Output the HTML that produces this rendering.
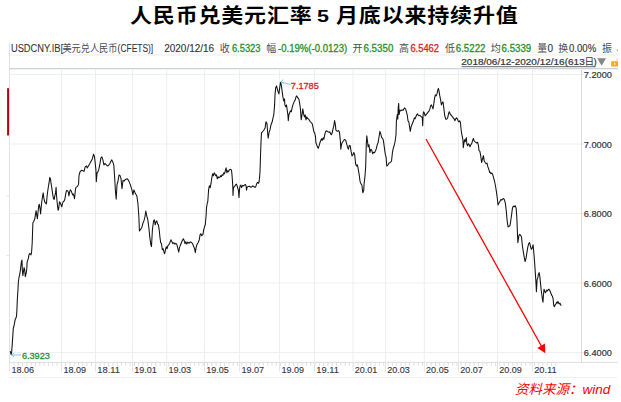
<!DOCTYPE html>
<html><head><meta charset="utf-8"><title>人民币兑美元汇率</title>
<style>
html,body{margin:0;padding:0;background:#fff;}
body{width:621px;height:402px;position:relative;overflow:hidden;font-family:"Liberation Sans", "Noto Sans CJK SC", sans-serif;}
.tt{position:absolute;top:2px;font-family:"Liberation Sans","Noto Sans CJK SC",sans-serif;font-weight:bold;font-size:20px;letter-spacing:0.75px;white-space:nowrap;color:#000;line-height:29px;transform:scaleX(1.1);transform-origin:0 0;}
.t5{font-size:16.5px;top:2.2px;transform:scaleX(1.3);transform-origin:0 0;letter-spacing:0;}
#src{position:absolute;left:515px;top:379.5px;font-size:13.5px;font-style:italic;font-weight:400;color:#ff0000;white-space:nowrap;line-height:20px;font-family:"Liberation Sans","Noto Sans CJK SC",sans-serif;}
svg{position:absolute;left:0;top:0;}
svg text{font-family:"Liberation Sans", "Noto Sans CJK SC", sans-serif;}
</style></head>
<body>
<svg width="621" height="402" viewBox="0 0 621 402">
<text x="10.9" y="51.6" font-size="10" fill="#333338" textLength="49.6" lengthAdjust="spacingAndGlyphs" stroke="#333338" stroke-width="0.08">USDCNY.IB</text>
<text x="60.4" y="51.6" font-size="10" fill="#333338">[</text>
<text x="62.4" y="52.0" font-size="10" fill="#4a4a50" textLength="55" lengthAdjust="spacingAndGlyphs">美元兑人民币</text>
<text x="117.6" y="51.6" font-size="10" fill="#333338" textLength="35.6" lengthAdjust="spacingAndGlyphs" stroke="#333338" stroke-width="0.08">(CFETS)]</text>
<text x="164.2" y="51.6" font-size="10" fill="#333338" textLength="50" lengthAdjust="spacingAndGlyphs" stroke="#333338" stroke-width="0.12">2020/12/16</text>
<text x="219.8" y="52.0" font-size="10" fill="#4a4a50">收</text>
<text x="231.9" y="51.6" font-size="10" fill="#1d8f29" textLength="28.6" lengthAdjust="spacingAndGlyphs" stroke="#1d8f29" stroke-width="0.28">6.5323</text>
<text x="266.2" y="52.0" font-size="10" fill="#4a4a50">幅</text>
<text x="278.0" y="51.6" font-size="10" fill="#1d8f29" textLength="69.2" lengthAdjust="spacingAndGlyphs" stroke="#1d8f29" stroke-width="0.28">-0.19%(-0.0123)</text>
<text x="352.6" y="52.0" font-size="10" fill="#4a4a50">开</text>
<text x="363.5" y="51.6" font-size="10" fill="#1d8f29" textLength="29.8" lengthAdjust="spacingAndGlyphs" stroke="#1d8f29" stroke-width="0.28">6.5350</text>
<text x="399.1" y="52.0" font-size="10" fill="#4a4a50">高</text>
<text x="410.4" y="51.6" font-size="10" fill="#d82222" textLength="28.6" lengthAdjust="spacingAndGlyphs" stroke="#d82222" stroke-width="0.28">6.5462</text>
<text x="444.9" y="52.0" font-size="10" fill="#4a4a50">低</text>
<text x="455.8" y="51.6" font-size="10" fill="#1d8f29" textLength="29.6" lengthAdjust="spacingAndGlyphs" stroke="#1d8f29" stroke-width="0.28">6.5222</text>
<text x="490.7" y="52.0" font-size="10" fill="#4a4a50">均</text>
<text x="501.6" y="51.6" font-size="10" fill="#1d8f29" textLength="29.6" lengthAdjust="spacingAndGlyphs" stroke="#1d8f29" stroke-width="0.28">6.5339</text>
<text x="537.2" y="52.0" font-size="10" fill="#4a4a50">量</text>
<text x="547.6" y="51.6" font-size="10" fill="#333338" stroke="#333338" stroke-width="0.12">0</text>
<text x="558.2" y="52.0" font-size="10" fill="#4a4a50">换</text>
<text x="569.0" y="51.6" font-size="10" fill="#333338" textLength="27.2" lengthAdjust="spacingAndGlyphs" stroke="#333338" stroke-width="0.12">0.00%</text>
<text x="602.0" y="52.0" font-size="10" fill="#4a4a50">振</text>
<rect x="616.8" y="49.6" width="1.2" height="1.4" fill="#f08a40"/>
<text x="461.3" y="65.2" font-size="9.6" fill="#333338" textLength="123.4" lengthAdjust="spacingAndGlyphs" stroke="#333338" stroke-width="0.2">2018/06/12-2020/12/16(613</text>
<text x="584.6" y="65.2" font-size="9.6" fill="#333338" stroke="#333338" stroke-width="0.05">日</text>
<text x="593.6" y="65.2" font-size="9.6" fill="#333338" stroke="#333338" stroke-width="0.2">)</text>
<line x1="461.5" y1="66.7" x2="595.5" y2="66.7" stroke="#55555c" stroke-width="0.9"/>
<path d="M597.3,58.2 L606,58.2 L601.65,65.8 Z" fill="#858585"/>
<rect x="611.2" y="61.2" width="6.8" height="5.2" rx="0.5" fill="#f0a825"/>
<rect x="616.6" y="58.4" width="0.9" height="2.8" fill="#f3c060"/>
<rect x="614.1" y="62.6" width="1.1" height="2.4" fill="#fff6e0"/>
<line x1="9.5" y1="43" x2="9.5" y2="362.5" stroke="#e2e2e2" stroke-width="1"/>
<line x1="9.5" y1="55" x2="618" y2="55" stroke="#ececec" stroke-width="1"/>
<line x1="9.5" y1="68.6" x2="618" y2="68.6" stroke="#c6d3dd" stroke-width="1.3"/>
<line x1="10" y1="74.6" x2="581" y2="74.6" stroke="#efefef" stroke-width="1"/>
<line x1="10" y1="144.0" x2="581" y2="144.0" stroke="#efefef" stroke-width="1"/>
<line x1="10" y1="213.5" x2="581" y2="213.5" stroke="#efefef" stroke-width="1"/>
<line x1="10" y1="283.0" x2="581" y2="283.0" stroke="#efefef" stroke-width="1"/>
<line x1="10" y1="352.4" x2="581" y2="352.4" stroke="#efefef" stroke-width="1"/>
<line x1="61.6" y1="69.5" x2="61.6" y2="362" stroke="#eeeeee" stroke-width="1"/>
<line x1="95.5" y1="69.5" x2="95.5" y2="362" stroke="#eeeeee" stroke-width="1"/>
<line x1="132.5" y1="69.5" x2="132.5" y2="362" stroke="#eeeeee" stroke-width="1"/>
<line x1="166.7" y1="69.5" x2="166.7" y2="362" stroke="#eeeeee" stroke-width="1"/>
<line x1="204.5" y1="69.5" x2="204.5" y2="362" stroke="#eeeeee" stroke-width="1"/>
<line x1="239.6" y1="69.5" x2="239.6" y2="362" stroke="#eeeeee" stroke-width="1"/>
<line x1="279.6" y1="69.5" x2="279.6" y2="362" stroke="#eeeeee" stroke-width="1"/>
<line x1="314.5" y1="69.5" x2="314.5" y2="362" stroke="#eeeeee" stroke-width="1"/>
<line x1="353.0" y1="69.5" x2="353.0" y2="362" stroke="#eeeeee" stroke-width="1"/>
<line x1="385.5" y1="69.5" x2="385.5" y2="362" stroke="#eeeeee" stroke-width="1"/>
<line x1="424.3" y1="69.5" x2="424.3" y2="362" stroke="#eeeeee" stroke-width="1"/>
<line x1="458.5" y1="69.5" x2="458.5" y2="362" stroke="#eeeeee" stroke-width="1"/>
<line x1="497.5" y1="69.5" x2="497.5" y2="362" stroke="#eeeeee" stroke-width="1"/>
<line x1="532.4" y1="69.5" x2="532.4" y2="362" stroke="#eeeeee" stroke-width="1"/>
<path d="M6.5,195.7H9 M6.5,255.6H9" stroke="#dddddd" stroke-width="0.8"/>
<line x1="581.5" y1="69.5" x2="581.5" y2="362.5" stroke="#dadada" stroke-width="1"/>
<line x1="9.5" y1="362.4" x2="618" y2="362.4" stroke="#dedede" stroke-width="1"/>
<path d="M9.7,362.8V365.8 M14.0,362.8V365.8 M18.3,362.8V365.8 M22.6,362.8V365.8 M26.9,362.8V365.8 M31.2,362.8V365.8 M35.5,362.8V365.8 M39.8,362.8V365.8 M44.1,362.8V365.8 M48.4,362.8V365.8 M52.7,362.8V365.8 M57.0,362.8V365.8 M61.3,362.8V365.8 M65.6,362.8V365.8 M69.9,362.8V365.8 M74.2,362.8V365.8 M78.5,362.8V365.8 M82.8,362.8V365.8 M87.1,362.8V365.8 M91.4,362.8V365.8 M95.7,362.8V365.8 M100.0,362.8V365.8 M104.3,362.8V365.8 M108.6,362.8V365.8 M112.9,362.8V365.8 M117.2,362.8V365.8 M121.5,362.8V365.8 M125.8,362.8V365.8 M130.1,362.8V365.8 M134.4,362.8V365.8 M138.7,362.8V365.8 M143.0,362.8V365.8 M147.3,362.8V365.8 M151.6,362.8V365.8 M155.9,362.8V365.8 M160.2,362.8V365.8 M164.5,362.8V365.8 M168.8,362.8V365.8 M173.1,362.8V365.8 M177.4,362.8V365.8 M181.7,362.8V365.8 M186.0,362.8V365.8 M190.3,362.8V365.8 M194.6,362.8V365.8 M198.9,362.8V365.8 M203.2,362.8V365.8 M207.5,362.8V365.8 M211.8,362.8V365.8 M216.1,362.8V365.8 M220.4,362.8V365.8 M224.7,362.8V365.8 M229.0,362.8V365.8 M233.3,362.8V365.8 M237.6,362.8V365.8 M241.9,362.8V365.8 M246.2,362.8V365.8 M250.5,362.8V365.8 M254.8,362.8V365.8 M259.1,362.8V365.8 M263.4,362.8V365.8 M267.7,362.8V365.8 M272.0,362.8V365.8 M276.3,362.8V365.8 M280.6,362.8V365.8 M284.9,362.8V365.8 M289.2,362.8V365.8 M293.5,362.8V365.8 M297.8,362.8V365.8 M302.1,362.8V365.8 M306.4,362.8V365.8 M310.7,362.8V365.8 M315.0,362.8V365.8 M319.3,362.8V365.8 M323.6,362.8V365.8 M327.9,362.8V365.8 M332.2,362.8V365.8 M336.5,362.8V365.8 M340.8,362.8V365.8 M345.1,362.8V365.8 M349.4,362.8V365.8 M353.7,362.8V365.8 M358.0,362.8V365.8 M362.3,362.8V365.8 M366.6,362.8V365.8 M370.9,362.8V365.8 M375.2,362.8V365.8 M379.5,362.8V365.8 M383.8,362.8V365.8 M388.1,362.8V365.8 M392.4,362.8V365.8 M396.7,362.8V365.8 M401.0,362.8V365.8 M405.3,362.8V365.8 M409.6,362.8V365.8 M413.9,362.8V365.8 M418.2,362.8V365.8 M422.5,362.8V365.8 M426.8,362.8V365.8 M431.1,362.8V365.8 M435.4,362.8V365.8 M439.7,362.8V365.8 M444.0,362.8V365.8 M448.3,362.8V365.8 M452.6,362.8V365.8 M456.9,362.8V365.8 M461.2,362.8V365.8 M465.5,362.8V365.8 M469.8,362.8V365.8 M474.1,362.8V365.8 M478.4,362.8V365.8 M482.7,362.8V365.8 M487.0,362.8V365.8 M491.3,362.8V365.8 M495.6,362.8V365.8 M499.9,362.8V365.8 M504.2,362.8V365.8 M508.5,362.8V365.8 M512.8,362.8V365.8 M517.1,362.8V365.8 M521.4,362.8V365.8 M525.7,362.8V365.8 M530.0,362.8V365.8 M534.3,362.8V365.8 M538.6,362.8V365.8 M542.9,362.8V365.8 M547.2,362.8V365.8 M551.5,362.8V365.8 M555.8,362.8V365.8" stroke="#d6d6d6" stroke-width="0.8" fill="none"/>
<path d="M9.5,362V371.5 M61.6,362V371.5 M95.5,362V371.5 M132.5,362V371.5 M166.7,362V371.5 M204.5,362V371.5 M239.6,362V371.5 M279.6,362V371.5 M314.5,362V371.5 M353.0,362V371.5 M385.5,362V371.5 M424.3,362V371.5 M458.5,362V371.5 M497.5,362V371.5 M532.4,362V371.5" stroke="#e4e4e4" stroke-width="1" fill="none"/>
<line x1="9.5" y1="377.5" x2="617" y2="377.5" stroke="#f0f0f0" stroke-width="1"/>
<rect x="7.1" y="88.2" width="1.9" height="47.3" fill="#b5000f"/>
<text x="583.7" y="78.4" font-size="9.5" fill="#333338" textLength="28.2" lengthAdjust="spacingAndGlyphs" stroke="#333338" stroke-width="0.2">7.2000</text>
<line x1="581.5" y1="74.6" x2="583.3" y2="74.6" stroke="#d8d8d8" stroke-width="0.8"/>
<text x="583.7" y="147.8" font-size="9.5" fill="#333338" textLength="28.2" lengthAdjust="spacingAndGlyphs" stroke="#333338" stroke-width="0.2">7.0000</text>
<line x1="581.5" y1="144.0" x2="583.3" y2="144.0" stroke="#d8d8d8" stroke-width="0.8"/>
<text x="583.7" y="217.3" font-size="9.5" fill="#333338" textLength="28.2" lengthAdjust="spacingAndGlyphs" stroke="#333338" stroke-width="0.2">6.8000</text>
<line x1="581.5" y1="213.5" x2="583.3" y2="213.5" stroke="#d8d8d8" stroke-width="0.8"/>
<text x="583.7" y="286.8" font-size="9.5" fill="#333338" textLength="28.2" lengthAdjust="spacingAndGlyphs" stroke="#333338" stroke-width="0.2">6.6000</text>
<line x1="581.5" y1="283.0" x2="583.3" y2="283.0" stroke="#d8d8d8" stroke-width="0.8"/>
<text x="583.7" y="356.2" font-size="9.5" fill="#333338" textLength="28.2" lengthAdjust="spacingAndGlyphs" stroke="#333338" stroke-width="0.2">6.4000</text>
<line x1="581.5" y1="352.4" x2="583.3" y2="352.4" stroke="#d8d8d8" stroke-width="0.8"/>
<text x="11.5" y="373.4" font-size="9.7" fill="#333338" textLength="22.6" lengthAdjust="spacingAndGlyphs" stroke="#333338" stroke-width="0.12">18.06</text>
<text x="63.4" y="373.4" font-size="9.7" fill="#333338" textLength="22.6" lengthAdjust="spacingAndGlyphs" stroke="#333338" stroke-width="0.12">18.09</text>
<text x="97.3" y="373.4" font-size="9.7" fill="#333338" textLength="22.6" lengthAdjust="spacingAndGlyphs" stroke="#333338" stroke-width="0.12">18.11</text>
<text x="134.3" y="373.4" font-size="9.7" fill="#333338" textLength="22.6" lengthAdjust="spacingAndGlyphs" stroke="#333338" stroke-width="0.12">19.01</text>
<text x="168.5" y="373.4" font-size="9.7" fill="#333338" textLength="22.6" lengthAdjust="spacingAndGlyphs" stroke="#333338" stroke-width="0.12">19.03</text>
<text x="206.3" y="373.4" font-size="9.7" fill="#333338" textLength="22.6" lengthAdjust="spacingAndGlyphs" stroke="#333338" stroke-width="0.12">19.05</text>
<text x="241.4" y="373.4" font-size="9.7" fill="#333338" textLength="22.6" lengthAdjust="spacingAndGlyphs" stroke="#333338" stroke-width="0.12">19.07</text>
<text x="281.4" y="373.4" font-size="9.7" fill="#333338" textLength="22.6" lengthAdjust="spacingAndGlyphs" stroke="#333338" stroke-width="0.12">19.09</text>
<text x="316.3" y="373.4" font-size="9.7" fill="#333338" textLength="22.6" lengthAdjust="spacingAndGlyphs" stroke="#333338" stroke-width="0.12">19.11</text>
<text x="354.8" y="373.4" font-size="9.7" fill="#333338" textLength="22.6" lengthAdjust="spacingAndGlyphs" stroke="#333338" stroke-width="0.12">20.01</text>
<text x="387.3" y="373.4" font-size="9.7" fill="#333338" textLength="22.6" lengthAdjust="spacingAndGlyphs" stroke="#333338" stroke-width="0.12">20.03</text>
<text x="426.1" y="373.4" font-size="9.7" fill="#333338" textLength="22.6" lengthAdjust="spacingAndGlyphs" stroke="#333338" stroke-width="0.12">20.05</text>
<text x="460.3" y="373.4" font-size="9.7" fill="#333338" textLength="22.6" lengthAdjust="spacingAndGlyphs" stroke="#333338" stroke-width="0.12">20.07</text>
<text x="499.3" y="373.4" font-size="9.7" fill="#333338" textLength="22.6" lengthAdjust="spacingAndGlyphs" stroke="#333338" stroke-width="0.12">20.09</text>
<text x="534.2" y="373.4" font-size="9.7" fill="#333338" textLength="22.6" lengthAdjust="spacingAndGlyphs" stroke="#333338" stroke-width="0.12">20.11</text>
<polyline points="10.2,351.1 11.2,354.6 11.7,351.4 12.2,344.9 12.8,335.9 13.3,328.1 13.8,326.8 14.3,324.2 14.8,321.6 15.3,319.1 16.1,317.8 16.6,315.2 16.9,310.0 17.3,299.7 17.9,290.7 18.4,281.8 19.0,277.3 19.6,275.1 20.2,271.3 20.8,266.9 21.4,261.6 22.0,260.1 22.3,269.9 22.9,275.8 23.5,271.3 24.1,267.6 24.7,269.9 25.3,276.6 25.9,274.3 26.5,271.3 26.8,268.4 27.1,262.4 27.7,260.1 28.3,258.7 28.9,254.9 29.8,253.4 30.4,254.2 31.0,254.9 31.6,251.9 31.9,247.5 32.2,243.0 32.5,233.4 32.9,222.8 33.8,221.2 34.8,218.8 35.4,214.8 36.1,210.7 36.7,214.8 37.4,218.8 38.0,212.3 38.7,205.9 39.3,204.3 40.0,208.3 40.6,214.0 41.3,205.9 41.9,201.0 42.6,196.2 43.2,192.9 43.8,197.8 44.5,201.0 45.1,202.6 45.8,203.4 46.4,203.9 47.1,196.2 47.7,191.3 48.4,186.5 49.0,183.2 49.8,177.4 50.5,179.0 51.0,183.2 51.6,186.5 52.3,191.3 52.9,195.4 53.5,198.6 54.2,199.4 54.8,196.2 55.5,192.9 56.1,187.3 56.5,194.9 57.0,200.8 57.5,205.8 58.2,210.3 58.8,207.8 59.5,201.8 60.2,202.8 61.0,204.8 61.8,206.8 62.4,203.8 63.1,201.8 63.9,201.3 64.7,199.8 65.4,195.9 65.9,192.9 66.4,190.9 66.9,190.4 67.7,190.9 68.4,192.4 68.9,195.9 69.4,193.4 69.9,190.9 70.6,189.9 71.2,190.9 71.9,192.9 72.6,194.9 73.2,193.9 73.9,195.9 74.5,198.8 74.9,194.9 75.4,189.9 75.9,187.4 76.8,186.9 77.8,185.9 78.6,183.9 78.8,179.0 79.1,175.0 80.0,171.8 81.6,170.2 82.8,170.8 84.0,171.4 85.2,166.9 86.4,165.9 87.2,167.9 88.4,165.9 89.6,163.9 90.9,161.5 92.3,158.9 93.5,154.3 94.3,155.9 95.1,161.9 95.9,169.9 96.3,181.8 97.1,172.8 97.9,171.8 98.7,169.9 99.9,163.9 100.9,157.9 101.9,156.9 102.9,159.9 103.9,164.9 104.9,163.5 105.9,164.3 106.9,165.5 107.9,165.9 108.9,164.9 109.9,163.5 110.8,161.5 111.8,159.9 112.8,161.9 113.8,164.9 114.8,179.8 115.4,190.7 116.2,199.3 117.0,184.9 118.0,181.1 119.0,175.0 120.0,175.4 121.0,178.7 122.0,188.6 123.0,180.4 124.0,181.1 125.4,179.4 127.4,178.7 128.9,181.1 130.4,184.9 131.9,189.9 132.9,194.8 133.9,189.9 135.4,193.6 136.9,196.1 137.9,203.5 138.9,217.2 139.4,230.9 140.4,229.7 141.9,227.2 142.9,223.4 143.9,220.9 144.9,217.2 145.8,211.0 146.8,216.0 147.8,219.7 148.8,227.2 149.8,237.1 150.8,244.6 151.5,246.5 152.4,229.8 153.6,220.8 154.4,219.9 155.2,224.8 156.0,221.8 156.8,220.8 157.6,223.8 158.4,224.8 159.2,229.8 160.0,237.8 160.7,242.7 161.5,243.7 162.3,249.7 163.1,248.7 163.9,251.7 164.7,253.7 165.5,249.7 166.3,246.7 167.1,248.7 167.9,245.7 168.9,244.7 169.9,242.7 170.9,239.8 171.9,241.7 172.9,243.7 173.9,242.7 174.9,244.1 175.9,243.3 176.9,244.7 177.9,248.7 178.7,252.1 179.5,247.7 180.2,245.7 181.0,243.7 182.2,240.7 183.4,238.8 184.2,240.7 185.0,243.7 185.8,241.7 186.8,244.1 187.8,242.1 189.0,243.3 190.0,242.1 191.0,242.1 192.6,243.7 193.8,246.7 194.6,248.7 195.3,252.6 196.1,247.7 196.9,244.7 198.1,242.7 199.3,239.7 200.1,234.7 200.9,233.7 201.7,235.7 202.9,234.7 203.7,229.8 204.5,226.8 205.3,224.8 206.1,215.8 206.5,207.9 207.3,203.0 207.8,201.6 208.6,189.7 209.4,185.7 210.2,187.7 211.0,183.7 211.8,177.8 212.6,173.8 213.4,175.8 214.2,172.8 215.0,173.8 215.7,175.8 216.5,174.8 217.3,178.8 218.1,176.8 218.9,177.8 219.7,177.4 220.5,175.8 221.3,176.8 222.1,174.8 222.9,175.4 223.7,172.8 224.5,173.8 225.3,170.8 226.1,167.8 226.9,172.8 227.7,170.8 228.5,171.8 229.3,169.8 230.6,169.3 231.5,170.2 231.9,173.7 232.3,178.9 232.8,186.7 233.0,195.4 233.4,188.5 234.1,186.7 235.0,185.9 235.8,184.6 236.5,184.1 237.1,185.9 237.7,188.0 238.4,190.2 239.0,197.6 239.3,192.8 239.7,187.6 240.2,185.9 240.9,185.0 241.5,187.6 241.9,186.7 242.8,185.4 243.7,185.9 244.5,185.0 245.4,184.6 246.1,185.9 246.5,190.2 247.0,187.6 247.6,186.7 248.4,186.6 249.3,186.3 250.2,186.7 251.0,187.2 251.9,186.7 252.8,185.9 253.7,186.3 254.5,187.2 255.4,187.2 256.0,185.9 256.7,183.7 257.4,182.4 258.0,182.8 258.6,183.3 259.1,181.5 259.5,178.0 260.0,172.0 260.5,155.8 261.1,139.9 261.5,132.9 262.7,131.5 263.9,130.0 265.1,128.0 265.5,124.8 266.0,121.8 267.0,123.8 267.8,134.7 268.2,138.3 269.0,132.7 270.0,129.7 271.0,124.8 272.2,121.8 273.0,117.8 273.8,114.8 274.6,104.9 275.0,94.9 275.7,87.9 276.5,85.9 277.3,88.9 278.1,91.9 278.9,93.9 279.7,87.9 280.5,82.2 281.3,85.0 282.1,90.9 282.9,96.9 283.7,100.9 284.5,98.9 284.9,104.9 285.7,106.8 286.5,104.9 287.3,110.8 287.9,114.8 288.3,120.8 288.9,114.8 289.7,112.8 290.5,110.8 291.3,111.8 292.1,107.8 292.9,104.9 293.7,102.9 294.5,100.9 295.2,99.9 296.0,96.9 296.8,95.9 297.8,97.9 298.8,98.9 299.6,102.9 300.4,108.8 301.2,119.8 302.0,114.9 302.8,108.9 303.6,113.9 304.4,116.9 305.2,114.9 306.0,119.9 306.8,116.9 307.6,118.5 308.4,118.9 309.2,119.9 310.0,121.3 311.1,122.5 312.3,123.9 313.1,127.8 313.9,131.8 314.7,132.8 315.5,136.8 315.9,142.8 316.7,144.8 317.5,147.1 318.3,148.3 319.1,145.7 319.9,142.8 320.7,140.8 321.5,138.8 322.3,140.4 323.1,137.8 323.9,139.2 324.7,134.8 325.5,131.8 326.3,130.8 327.1,131.2 327.9,131.8 329.1,132.4 329.9,131.8 330.6,133.8 331.4,134.8 332.2,132.8 333.0,128.8 333.8,125.8 334.6,120.5 335.4,124.9 335.9,130.1 337.2,131.3 338.6,130.6 339.5,132.4 340.4,141.3 340.8,149.2 341.7,143.6 343.1,141.3 344.4,139.5 345.7,140.2 346.6,143.6 347.5,146.9 348.4,149.2 349.3,145.4 350.2,145.8 351.1,151.4 352.0,155.9 352.9,154.8 353.8,152.5 354.7,154.8 355.6,163.7 356.5,166.0 357.4,164.8 358.3,169.3 359.2,174.9 360.1,181.6 361.0,183.9 361.9,185.0 362.8,192.8 363.7,190.6 364.1,183.9 365.0,176.0 365.7,166.0 366.3,143.6 366.8,135.7 367.5,141.3 368.1,146.9 369.0,144.7 369.9,152.5 370.8,149.2 371.8,150.4 372.7,153.8 373.6,152.2 374.5,152.7 375.4,150.9 376.3,148.7 377.2,144.8 378.1,142.6 379.0,137.0 379.9,131.4 380.7,133.7 381.6,137.5 382.5,138.1 383.4,140.4 384.3,147.1 385.2,153.8 386.1,157.2 386.8,166.1 387.9,165.0 388.8,163.4 389.7,162.8 390.6,162.1 391.5,161.2 392.4,152.7 393.3,148.2 394.2,145.5 395.1,141.5 396.0,134.8 396.4,121.3 397.3,114.6 397.8,119.1 398.2,107.9 398.7,103.4 399.1,114.6 400.0,110.0 400.8,110.8 402.0,109.9 403.2,110.2 404.4,107.9 405.6,108.9 406.4,111.8 407.2,114.8 408.0,120.8 408.8,121.8 409.6,126.8 410.3,131.3 411.1,126.8 411.9,124.8 412.7,122.8 413.5,120.8 414.3,117.8 415.1,118.8 415.9,116.8 416.7,114.8 417.5,113.8 418.3,115.4 419.1,115.8 419.9,115.4 420.7,116.2 421.5,116.8 422.3,117.8 422.7,125.8 423.1,114.8 423.5,111.8 424.3,112.8 425.1,115.8 425.9,114.8 426.7,113.8 427.5,112.8 428.3,111.8 429.1,110.8 429.9,108.9 430.6,105.9 431.4,104.9 432.2,106.9 433.0,108.9 433.8,103.9 434.6,97.9 435.4,94.9 436.2,95.9 437.0,93.9 437.8,90.0 438.4,88.4 439.0,90.9 439.8,95.9 440.6,99.9 441.4,104.9 442.2,102.9 443.0,101.9 443.8,107.9 444.6,114.8 445.3,117.8 446.1,119.4 446.9,118.8 447.7,117.8 448.5,113.8 449.3,111.8 450.1,113.8 450.9,114.8 451.7,115.8 452.5,116.8 453.3,117.8 454.1,118.8 454.9,120.8 455.7,118.8 456.5,117.8 457.3,118.8 458.1,120.8 458.9,121.8 459.7,120.8 460.5,122.8 460.9,127.8 461.5,132.7 462.1,135.7 462.9,139.7 463.3,147.7 463.9,143.7 464.5,139.7 465.2,141.7 466.0,138.7 466.4,137.7 466.8,143.7 467.6,145.7 468.4,143.7 469.2,144.7 470.0,146.7 470.9,144.6 471.8,143.4 472.7,140.1 473.4,138.5 474.0,140.7 474.9,141.6 475.8,142.3 476.7,143.0 477.6,142.3 478.5,145.7 479.0,150.6 479.9,151.3 480.7,155.7 481.6,162.5 482.5,159.1 483.4,155.7 484.3,161.3 485.2,162.5 486.1,163.6 487.0,163.1 487.9,166.9 488.8,169.2 489.7,172.5 490.1,172.1 491.0,173.7 491.9,173.0 492.8,174.8 493.7,178.1 494.6,181.5 495.5,186.0 496.4,191.6 497.3,198.3 498.0,205.0 499.1,202.8 500.0,201.2 500.9,199.4 501.8,200.1 502.7,199.0 503.6,198.5 504.5,200.1 505.4,203.4 506.3,211.3 507.2,221.3 508.1,226.9 509.0,226.3 509.9,225.8 510.7,221.3 511.6,214.6 512.5,207.9 513.4,206.1 514.3,206.8 515.2,205.7 516.1,207.9 516.8,216.9 517.5,234.8 517.9,242.6 518.8,235.9 519.7,234.3 520.6,235.2 521.5,237.0 522.4,246.0 523.3,251.6 524.2,257.2 525.1,261.6 526.0,258.3 526.9,252.7 527.8,247.1 528.7,243.7 529.6,242.6 530.4,246.0 531.3,249.3 532.2,248.2 533.1,244.8 533.9,253.5 534.6,262.2 535.3,272.6 536.0,283.1 536.4,291.8 537.1,279.6 537.8,277.9 538.4,274.4 539.1,272.6 539.8,276.1 540.5,283.1 541.2,290.0 541.9,295.3 542.6,300.5 543.0,302.2 543.3,297.0 544.0,289.2 544.7,290.9 545.4,292.7 546.1,291.4 546.8,290.0 547.5,290.9 548.2,289.7 548.9,289.2 549.6,290.0 550.3,291.8 551.0,293.5 551.7,295.3 552.4,296.1 553.1,298.8 553.4,302.2 553.8,305.7 554.5,306.6 555.2,304.8 555.9,304.0 556.6,302.2 557.3,303.1 558.0,301.4 558.6,303.1 559.3,304.0 560.0,303.1 560.7,304.8 561.1,305.7" fill="none" stroke="#111" stroke-width="1.05" stroke-linejoin="round"/>
<path d="M281,82.1 L290.5,84.6" stroke="#74c4de" stroke-width="0.9" fill="none"/>
<path d="M283.4,79.4 L281,82.1 L284,83.2" stroke="#74c4de" stroke-width="0.9" fill="none"/>
<text x="290.8" y="89.0" font-size="9.5" fill="#d82828" textLength="28.0" lengthAdjust="spacingAndGlyphs" stroke="#d82828" stroke-width="0.3">7.1785</text>
<path d="M11.6,355 L21.3,355" stroke="#74c4de" stroke-width="0.9" fill="none"/>
<path d="M14,353 L11.6,355 L14,357" stroke="#74c4de" stroke-width="0.9" fill="none"/>
<text x="21.9" y="359.4" font-size="9.5" fill="#26902e" textLength="28.0" lengthAdjust="spacingAndGlyphs" stroke="#26902e" stroke-width="0.3">6.3923</text>
<line x1="426" y1="139" x2="541.5" y2="346.3" stroke="#ff0000" stroke-width="1.3"/>
<path d="M545.3,353.2 L537.4,347.9 L544.9,343.5 Z" fill="#ff0000"/>
</svg>
<div class="tt" style="left:129.8px">人民币兑美元汇率</div><div class="tt t5" style="left:317.3px">5</div><div class="tt" style="left:335.7px">月底以来持续升值</div>
<div id="src">资料来源：wind</div>
</body></html>
